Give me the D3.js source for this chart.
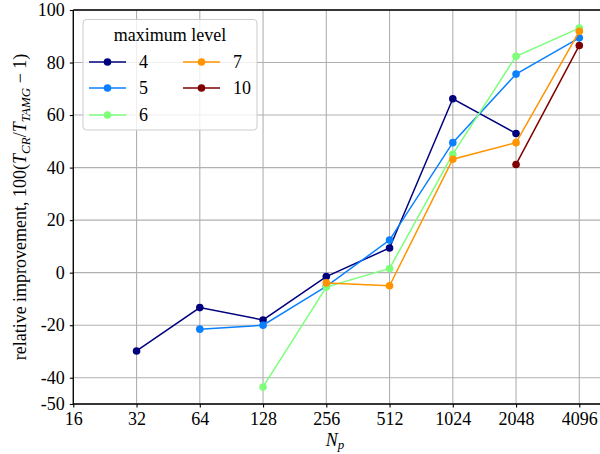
<!DOCTYPE html>
<html>
<head>
<meta charset="utf-8">
<script src="https://cdn.jsdelivr.net/npm/d3@7"></script>
<style>
  html, body { margin: 0; padding: 0; background: #fff; }
  svg { display: block; }
  svg text { font-family: "Times New Roman", Times, "Liberation Serif", Tinos, "DejaVu Serif", "Noto Serif", serif !important; fill: #000; }
</style>
</head>
<body>
<svg id="chart" width="600" height="454"></svg>
<script>
// Number of processes on the x axis (log2 spaced)
const npTicks = [16, 32, 64, 128, 256, 512, 1024, 2048, 4096];
const yTicks = [100, 80, 60, 40, 20, 0, -20, -40, -50];

// Maximum refinement level of each series
const levels = [4, 5, 6, 7, 10];
const levelColors = ["#00007f", "#0a80ff", "#7dff7a", "#ff9400", "#7f0000"];

// Relative improvement per N_p (null = not measured)
const level4 = [null, -29.8, -13.3, -18.0, -1.5, 9.4, 66.2, 53.0, null];
const level5 = [null, null, -21.5, -20.0, -5.2, 12.4, 49.5, 75.6, 89.4];
const level6 = [null, null, null, -43.5, -5.5, 1.6, 45.1, 82.4, 93.1];
const level7 = [null, null, null, null, -3.9, -5.0, 43.2, 49.5, 91.9];
const level10 = [null, null, null, null, null, null, null, 41.2, 86.5];
const seriesValues = [level4, level5, level6, level7, level10];

const svg = d3.select("#chart");
const plotLeft = 73.3, plotTop = 10, plotBottom = 404;

const x = d3.scaleLog().base(2).domain([16, 4096]).range([plotLeft, 579.3]);
const y = d3.scaleLinear().domain([-50, 100]).range([plotBottom, plotTop]);

// Grid
const grid = svg.append("g");
grid.selectAll("line.v").data(npTicks).join("line").attr("class", "v")
  .attr("x1", d => x(d)).attr("x2", d => x(d))
  .attr("y1", plotTop).attr("y2", plotBottom)
  .attr("stroke", "#b0b0b0").attr("stroke-width", 1.1);
grid.selectAll("line.h").data(yTicks).join("line").attr("class", "h")
  .attr("x1", plotLeft).attr("x2", 600)
  .attr("y1", d => y(d)).attr("y2", d => y(d))
  .attr("stroke", "#b0b0b0").attr("stroke-width", 1.1);

// Axes
const xAxis = d3.axisBottom(x).tickValues(npTicks).tickFormat(d3.format("d"))
  .tickSizeInner(3.5).tickSizeOuter(0).tickPadding(5);
const gx = svg.append("g").attr("transform", `translate(0,${plotBottom})`).call(xAxis)
  .attr("font-family", null);
gx.select(".domain").remove();
gx.selectAll("line").attr("stroke", "#000").attr("stroke-width", 1.1);
gx.selectAll("text").attr("font-size", 18);

const yAxis = d3.axisLeft(y).tickValues(yTicks).tickFormat(d => d < 0 ? "-" + Math.abs(d) : d)
  .tickSizeInner(3.5).tickSizeOuter(0).tickPadding(5);
const gy = svg.append("g").attr("transform", `translate(${plotLeft},0)`).call(yAxis)
  .attr("font-family", null);
gy.select(".domain").remove();
gy.selectAll("line").attr("stroke", "#000").attr("stroke-width", 1.1);
gy.selectAll("text").attr("font-size", 18);

// Spines
svg.append("line").attr("x1", plotLeft).attr("x2", 600).attr("y1", plotTop).attr("y2", plotTop)
  .attr("stroke", "#000").attr("stroke-width", 1.3);
svg.append("line").attr("x1", plotLeft).attr("x2", 600).attr("y1", plotBottom).attr("y2", plotBottom)
  .attr("stroke", "#000").attr("stroke-width", 1.3);
svg.append("line").attr("x1", plotLeft).attr("x2", plotLeft).attr("y1", plotTop).attr("y2", plotBottom)
  .attr("stroke", "#000").attr("stroke-width", 1.3);

// Series
const line = d3.line().defined(d => d.v !== null).x(d => x(d.n)).y(d => y(d.v));
levels.forEach((lvl, i) => {
  const pts = npTicks.map((n, j) => ({ n, v: seriesValues[i][j] }));
  const g = svg.append("g");
  g.append("path").datum(pts).attr("d", line)
    .attr("fill", "none").attr("stroke", levelColors[i]).attr("stroke-width", 1.5);
  g.selectAll("circle").data(pts.filter(d => d.v !== null)).join("circle")
    .attr("cx", d => x(d.n)).attr("cy", d => y(d.v)).attr("r", 3.8)
    .attr("fill", levelColors[i]);
});

// Legend
const lg = svg.append("g");
lg.append("rect").attr("x", 83).attr("y", 19.5).attr("width", 174).attr("height", 110.5)
  .attr("rx", 3.5).attr("fill", "#fff").attr("fill-opacity", 0.8)
  .attr("stroke", "#cccccc").attr("stroke-width", 1);
lg.append("text").attr("x", 170).attr("y", 41).attr("text-anchor", "middle")
  .attr("font-size", 18).text("maximum level");
const legendPos = [[89, 62], [89, 88], [89, 115], [183, 62], [183, 88]];
levels.forEach((lvl, i) => {
  const [lx, ly] = legendPos[i];
  lg.append("line").attr("x1", lx).attr("x2", lx + 37).attr("y1", ly).attr("y2", ly)
    .attr("stroke", levelColors[i]).attr("stroke-width", 1.5);
  lg.append("circle").attr("cx", lx + 18.5).attr("cy", ly).attr("r", 3.8).attr("fill", levelColors[i]);
  lg.append("text").attr("x", lx + 50).attr("y", ly + 6).attr("font-size", 18).text(lvl);
});

// Axis labels
const xl = svg.append("text").attr("x", 335).attr("y", 446).attr("text-anchor", "middle").attr("font-size", 18);
xl.append("tspan").attr("font-style", "italic").text("N");
xl.append("tspan").attr("font-style", "italic").attr("font-size", 13).attr("dy", 3).text("p");

const yl = svg.append("text").attr("transform", "translate(26,207) rotate(-90)")
  .attr("text-anchor", "middle").attr("font-size", 18);
yl.append("tspan").text("relative improvement, 100(");
yl.append("tspan").attr("font-style", "italic").text("T");
yl.append("tspan").attr("font-style", "italic").attr("font-size", 13).attr("dy", 4).text("CR");
yl.append("tspan").attr("dy", -4).text("/");
yl.append("tspan").attr("font-style", "italic").text("T");
yl.append("tspan").attr("font-style", "italic").attr("font-size", 13).attr("dy", 4).text("TAMG");
yl.append("tspan").attr("dy", -4).text(" \u2212 1)");
</script>
</body>
</html>
